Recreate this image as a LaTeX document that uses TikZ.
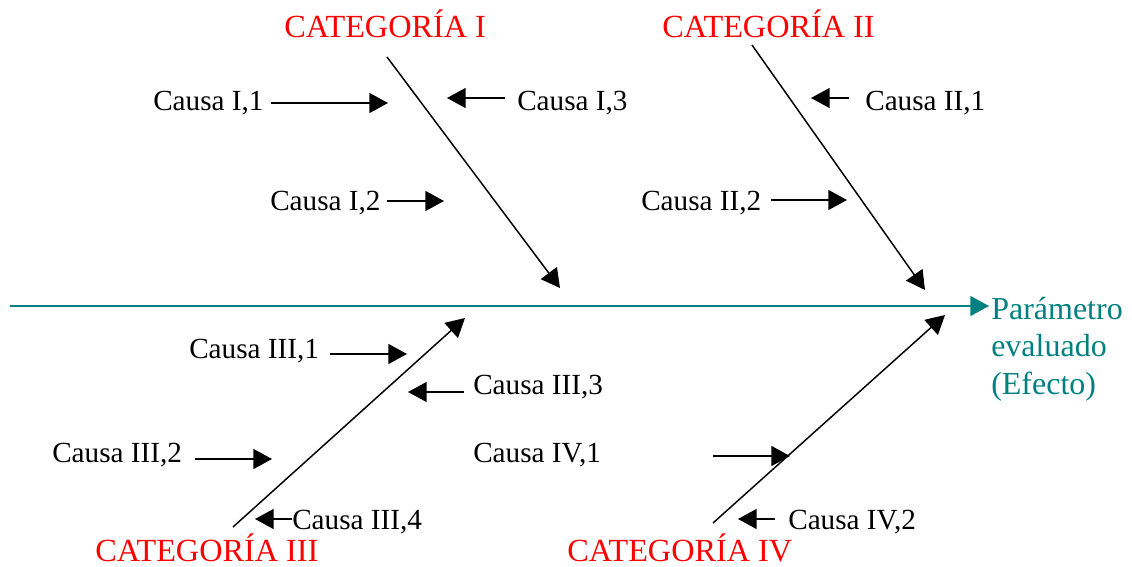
\documentclass[tikz,border=0pt]{standalone}
\usepackage{fontspec}
\setmainfont{Liberation Serif}
\usetikzlibrary{arrows.meta}
\definecolor{efteal}{RGB}{0,128,128}
\tikzset{
  cause/.style={font=\fontsize{21.9}{26}\selectfont, inner sep=0pt, anchor=base west},
  cat/.style={font=\fontsize{24.2}{28}\selectfont, text=red, inner sep=0pt, anchor=base west},
  arr/.style={line width=1.1pt, -{Triangle[length=14pt,width=15pt]}},
  spine/.style={line width=1.1pt, draw=efteal, -{Triangle[length=14pt,width=15pt]}},
}
\begin{document}
\begin{tikzpicture}[x=0.75pt,y=-0.75pt]
\useasboundingbox (0,0) rectangle (1132,567);
% categories
\node[cat] (cat1) at (284,38) {CATEGORÍA I};
\node[cat] (cat2) at (662,38) {CATEGORÍA II};
\node[cat] (cat3) at (95,561) {CATEGORÍA III};
\node[cat] (cat4) at (567,561) {CATEGORÍA IV};
% effect
\node[font=\fontsize{24}{28}\selectfont, text=efteal, inner sep=0pt, anchor=base west, align=left] (eff) at (991,394) {Parámetro\\evaluado\\(Efecto)};
% spine
\coordinate (sp0) at (10,306);
\coordinate (spe) at (989,306);
\draw[spine] (sp0) -- (spe);
% bones
\coordinate (b1s) at (387,57); \coordinate (b1e) at (560,288);
\coordinate (b2s) at (752,45); \coordinate (b2e) at (925,290);
\coordinate (b3s) at (233,527); \coordinate (b3e) at (465,318);
\coordinate (b4s) at (713,523); \coordinate (b4e) at (945,315);
\draw[arr] (b1s) -- (b1e);
\draw[arr] (b2s) -- (b2e);
\draw[arr] (b3s) -- (b3e);
\draw[arr] (b4s) -- (b4e);
% causes
\node[cause] (c11) at (153,110) {Causa I,1};
\node[cause] (c13) at (517,110) {Causa I,3};
\node[cause] (c12) at (270,210) {Causa I,2};
\node[cause] (c21) at (865,110) {Causa II,1};
\node[cause] (c22) at (641,210) {Causa II,2};
\node[cause] (c31) at (189,358) {Causa III,1};
\node[cause] (c33) at (473,394) {Causa III,3};
\node[cause] (c32) at (52,462) {Causa III,2};
\node[cause] (c34) at (292,529) {Causa III,4};
\node[cause] (c41) at (473,462) {Causa IV,1};
\node[cause] (c42) at (788,529) {Causa IV,2};
% cause arrows
\coordinate (s11) at (271,103); \coordinate (t11) at (388,103);
\coordinate (s13) at (505,98);  \coordinate (t13) at (447,98);
\coordinate (s12) at (387,201); \coordinate (t12) at (444,201);
\coordinate (s21) at (849,98);  \coordinate (t21) at (811,98);
\coordinate (s22) at (771,200); \coordinate (t22) at (847,200);
\coordinate (s31) at (330,354); \coordinate (t31) at (407,354);
\coordinate (s33) at (464,392); \coordinate (t33) at (408,392);
\coordinate (s32) at (195,459); \coordinate (t32) at (272,459);
\coordinate (s34) at (292,519); \coordinate (t34) at (255,519);
\coordinate (s41) at (713,456); \coordinate (t41) at (790,456);
\coordinate (s42) at (775,519); \coordinate (t42) at (738,519);
\foreach \k in {11,13,12,21,22,31,33,32,34,41,42}{
  \draw[arr] (s\k) -- (t\k);
}
\end{tikzpicture}
\end{document}
